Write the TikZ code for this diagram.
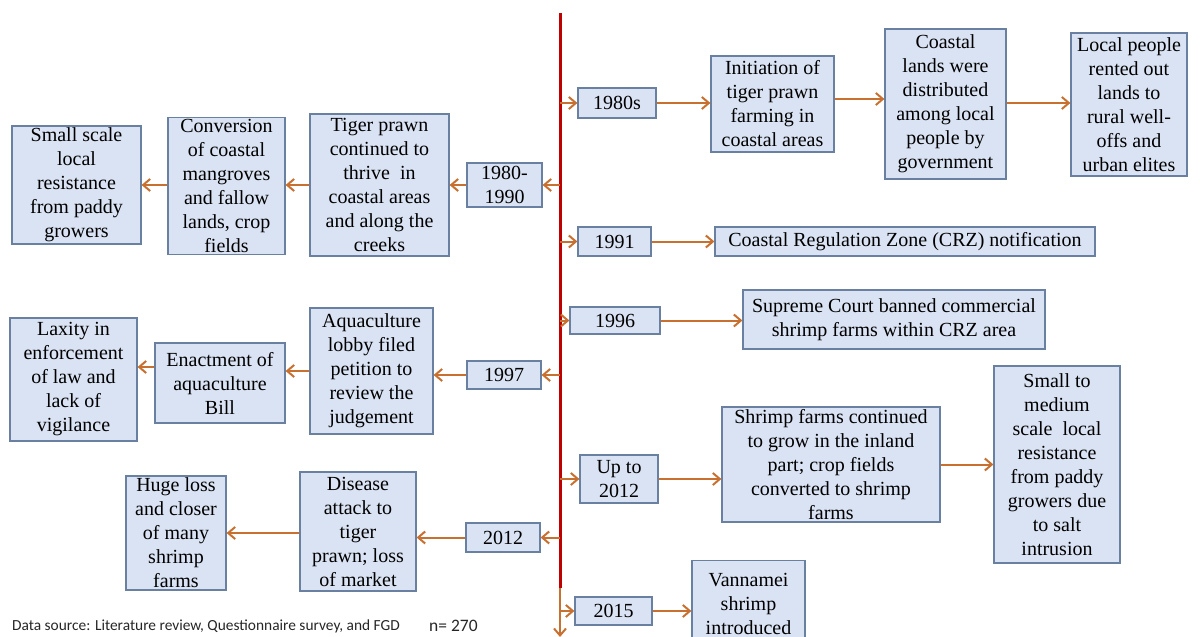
\documentclass[tikz,border=0pt]{standalone}
\usepackage{fontspec}
\setmainfont{Liberation Serif}
\newfontfamily\tnr{Liberation Serif}
\newfontfamily\calib{Carlito}
\usetikzlibrary{arrows.meta}
\definecolor{boxfill}{RGB}{218,227,243}
\definecolor{boxline}{RGB}{105,128,160}
\definecolor{arrowc}{RGB}{200,112,48}
\definecolor{tlred}{RGB}{192,0,0}
\begin{document}
\begin{tikzpicture}[x=1pt,y=-1pt,
  box/.style={draw=boxline, fill=boxfill, line width=1.2pt, align=center, inner sep=1pt,
    font=\tnr\fontsize{20}{24}\selectfont},
  arr/.style={draw=arrowc, line width=2pt, -{Straight Barb[length=7pt,width=12pt]}},
  tline/.style={draw=tlred, line width=3pt}]
\useasboundingbox (0,0) rectangle (1200,637);
% timeline
\coordinate (tltop) at (560,13);
\coordinate (tlmid) at (560,588);
\coordinate (tlend) at (560,637);
\draw[tline] (tltop) -- (tlmid);
\draw[arr] (tlmid) -- (tlend);

% right side nodes
\node[box, minimum width=78, minimum height=30] (y1980s) at (617,103) {1980s};
\node[box, minimum width=123, minimum height=96] (init) at (772.5,104) {Initiation of\\tiger prawn\\farming in\\coastal areas};
\node[box, minimum width=121, minimum height=150] (coast) at (945.5,104) {Coastal\\lands were\\distributed\\among local\\people by\\government};
\node[box, minimum width=116, minimum height=143] (local) at (1129,104.5) {Local people\\rented out\\lands to\\rural well-\\offs and\\urban elites};
\node[box, minimum width=73, minimum height=29] (y1991) at (614.5,241.5) {1991};
\node[box, minimum width=380, minimum height=29] (crz) at (905,241.5) {Coastal Regulation Zone (CRZ) notification};
\node[box, minimum width=90, minimum height=27] (y1996) at (615,320.5) {1996};
\node[box, minimum width=302, minimum height=59] (sc) at (894,319.5) {Supreme Court banned commercial\\shrimp farms within CRZ area};
\node[box, minimum width=78, minimum height=48] (upto) at (619,479) {Up to\\2012};
\node[box, minimum width=218, minimum height=115] (shrimp) at (831,464.5) {Shrimp farms continued\\to grow in the inland\\part; crop fields\\converted to shrimp\\farms};
\node[box, minimum width=126, minimum height=197] (smallmed) at (1057,464.5) {Small to\\medium\\scale~ local\\resistance\\from paddy\\growers due\\to salt\\intrusion};
\node[box, minimum width=77, minimum height=28] (y2015) at (613.5,611) {2015};
\node[box, minimum width=113, minimum height=86, anchor=north] (vann) at (748.5,560) {Vannamei\\shrimp\\introduced};

% left side nodes
\node[box, minimum width=75, minimum height=44] (y8090) at (504.5,185) {1980-\\1990};
\node[box, minimum width=139, minimum height=142] (tiger) at (379.5,185) {Tiger prawn\\continued to\\thrive~ in\\coastal areas\\and along the\\creeks};
\node[box, minimum width=117, minimum height=137, inner ysep=0pt] (conv) at (226.5,186) {Conversion\\of coastal\\mangroves\\and fallow\\lands, crop\\fields};
\node[box, minimum width=129, minimum height=118] (small) at (76.5,185) {Small scale\\local\\resistance\\from paddy\\growers};
\node[box, minimum width=74, minimum height=28] (y1997) at (504,375) {1997};
\node[box, minimum width=123, minimum height=126] (lobby) at (371.5,371) {Aquaculture\\lobby filed\\petition to\\review the\\judgement};
\node[box, minimum width=130, minimum height=80] (enact) at (220,383) {Enactment of\\aquaculture\\Bill};
\node[box, minimum width=127, minimum height=123] (laxity) at (73.5,379.5) {Laxity in\\enforcement\\of law and\\lack of\\vigilance};
\node[box, minimum width=74, minimum height=29] (y2012) at (503,537.5) {2012};
\node[box, minimum width=116, minimum height=119] (disease) at (358,531.5) {Disease\\attack to\\tiger\\prawn; loss\\of market};
\node[box, minimum width=100, minimum height=114] (huge) at (176,533) {Huge loss\\and closer\\of many\\shrimp\\farms};

% connectors right
\draw[arr] (tltop |- y1980s.west) -- (y1980s.west);
\draw[arr] (y1980s.east) -- (init.west |- y1980s.east);
\draw[arr] (init.east |- 0,99) -- (coast.west |- 0,99);
\draw[arr] (coast.east |- 0,103) -- (local.west |- 0,103);
\draw[arr] (tltop |- y1991.west) -- (y1991.west);
\draw[arr] (y1991.east) -- (crz.west);
\draw[arr] (tltop |- y1996.west) -- (y1996.west);
\draw[arr] (y1996.east) -- (sc.west |- y1996.east);
\draw[arr] (tltop |- upto.west) -- (upto.west);
\draw[arr] (upto.east) -- (shrimp.west |- upto.east);
\draw[arr] (shrimp.east) -- (smallmed.west |- shrimp.east);
\draw[arr] (tltop |- y2015.west) -- (y2015.west);
\draw[arr] (y2015.east) -- (vann.west |- y2015.east);

% connectors left
\draw[arr] (tltop |- y8090.east) -- (y8090.east);
\draw[arr] (y8090.west) -- (tiger.east |- y8090.west);
\draw[arr] (tiger.west) -- (conv.east |- tiger.west);
\draw[arr] (conv.west |- 0,185) -- (small.east |- 0,185);
\draw[arr] (tltop |- y1997.east) -- (y1997.east);
\draw[arr] (y1997.west) -- (lobby.east |- y1997.west);
\draw[arr] (lobby.west |- 0,371) -- (enact.east |- 0,371);
\draw[arr] (enact.west |- 0,367) -- (laxity.east |- 0,367);
\draw[arr] (tltop |- y2012.east) -- (y2012.east);
\draw[arr] (y2012.west) -- (disease.east |- y2012.west);
\draw[arr] (disease.west |- 0,533) -- (huge.east |- 0,533);

% footer
\node[anchor=west, inner sep=0pt, font=\calib\fontsize{15.4}{17}\selectfont, text=black!85] (src) at (12,626) {Data source: Literature review, Questionnaire survey, and FGD};
\node[anchor=west, inner sep=0pt, font=\calib\fontsize{17.5}{19}\selectfont, text=black!85] (nval) at (429,626) {n= 270};
\end{tikzpicture}
\end{document}
